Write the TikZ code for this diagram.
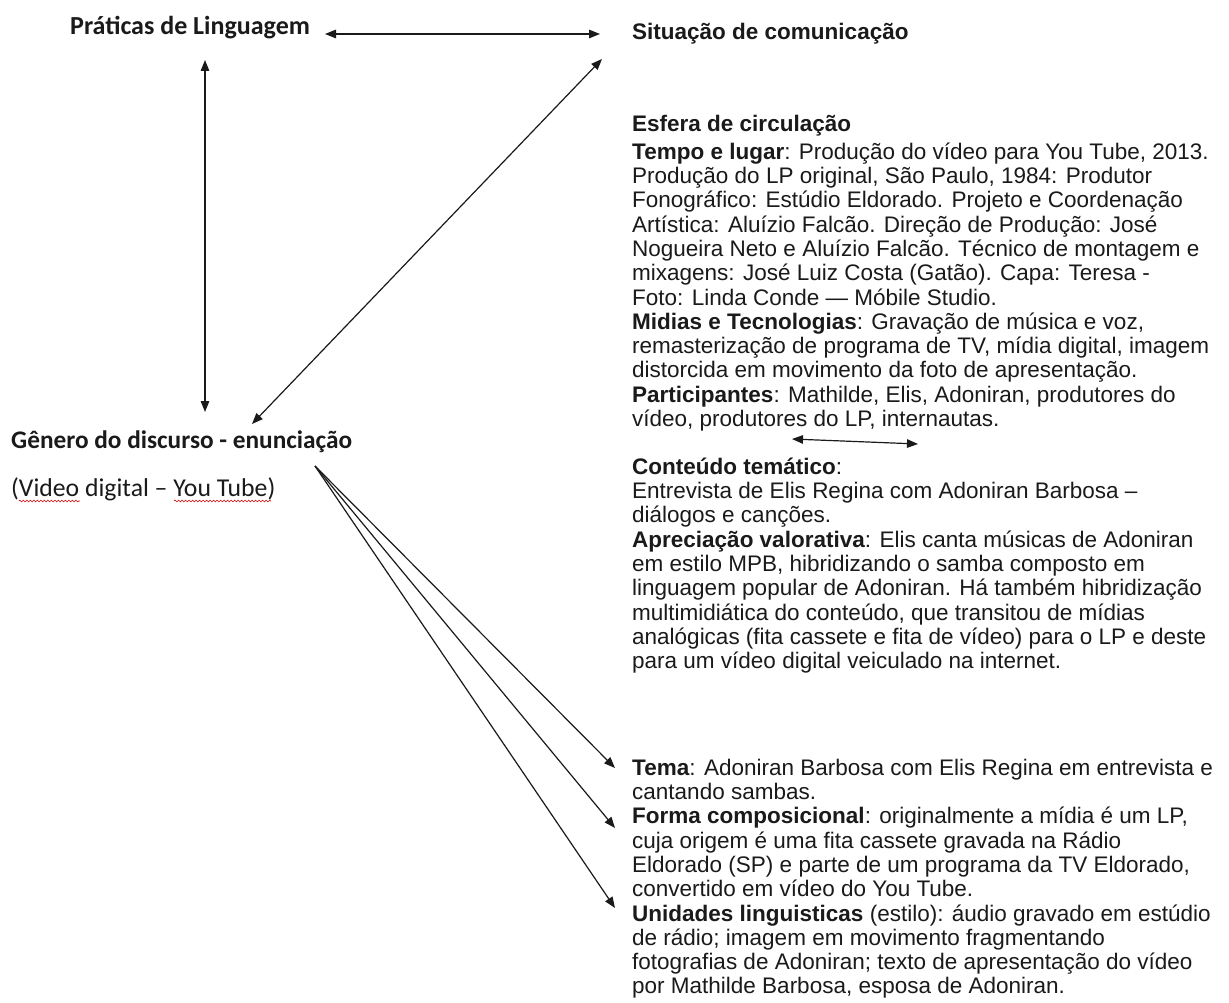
\documentclass[tikz,border=0pt]{standalone}
\usepackage{fontspec}
\setmainfont{Liberation Sans}
\newfontfamily\calib{Carlito}
\usetikzlibrary{arrows.meta,decorations.pathmorphing}
\definecolor{ink}{HTML}{1A1A1A}
\newcommand\topstrut{\rule{0pt}{22pt}}
\begin{document}
\begin{tikzpicture}[x=1pt,y=-1pt,
  >={Triangle[length=11pt,width=8.5pt]},
  txt/.style={inner sep=0pt, anchor=north west, align=left, text=ink,
    font=\fontsize{22.5}{24.3}\selectfont},
  head/.style={inner sep=0pt, anchor=base west, text=ink,
    font=\fontsize{22.5}{24.3}\selectfont\bfseries},
  lefthead/.style={inner sep=0pt, anchor=base west, text=ink,
    font=\calib\fontsize{25.3}{30}\selectfont\bfseries},
  leftsub/.style={inner sep=0pt, anchor=base west, text=ink,
    font=\calib\fontsize{25.7}{30}\selectfont},
  dbl/.style={<->, line width=1.2pt, draw=ink},
  one/.style={->, line width=1.2pt, draw=ink},
  wavy/.style={draw=red!85!black, line width=0.6pt, decorate,
    decoration={snake, amplitude=0.9pt, segment length=3.5pt}}]
\useasboundingbox[fill=white] (0,0) rectangle (1229,1003);

% left column
\node[lefthead, font=\calib\fontsize{26}{30}\selectfont\bfseries] (prat) at (70,35) {Práticas de Linguagem};
\node[lefthead] (gen) at (11,448) {Gênero do discurso - enunciação};
\node[leftsub] (vid) at (11,496) {(Video digital – You Tube)};
\draw[wavy] ([xshift=7.8pt,yshift=-5pt]vid.base west) -- ++(61,0);
\draw[wavy] ([xshift=163pt,yshift=-5pt]vid.base west) -- ++(97,0);

% right column
\node[head] (sit) at (632,40) {Situação de comunicação};
\node[head] (esf) at (632,132) {Esfera de circulação};
\node[txt] (tempo) at (632,137) {\topstrut\textbf{Tempo e lugar}: Produção do vídeo para You Tube, 2013.\\
Produção do LP original, São Paulo, 1984: Produtor\\
Fonográfico: Estúdio Eldorado. Projeto e Coordenação\\
Artística: Aluízio Falcão. Direção de Produção: José\\
Nogueira Neto e Aluízio Falcão. Técnico de montagem e\\
mixagens: José Luiz Costa (Gatão). Capa: Teresa -\\
Foto: Linda Conde — Móbile Studio.\\
\textbf{Midias e Tecnologias}: Gravação de música e voz,\\
remasterização de programa de TV, mídia digital, imagem\\
distorcida em movimento da foto de apresentação.\\
\textbf{Participantes}: Mathilde, Elis, Adoniran, produtores do\\
vídeo, produtores do LP, internautas.};

\node[txt] (cont) at (632,452) {\topstrut\textbf{Conteúdo temático}:\\
Entrevista de Elis Regina com Adoniran Barbosa –\\
diálogos e canções.\\
\textbf{Apreciação valorativa}: Elis canta músicas de Adoniran\\
em estilo MPB, hibridizando o samba composto em\\
linguagem popular de Adoniran. Há também hibridização\\
multimidiática do conteúdo, que transitou de mídias\\
analógicas (fita cassete e fita de vídeo) para o LP e deste\\
para um vídeo digital veiculado na internet.};

\node[txt] (tema) at (632,753) {\topstrut\textbf{Tema}: Adoniran Barbosa com Elis Regina em entrevista e\\
cantando sambas.\\
\textbf{Forma composicional}: originalmente a mídia é um LP,\\
cuja origem é uma fita cassete gravada na Rádio\\
Eldorado (SP) e parte de um programa da TV Eldorado,\\
convertido em vídeo do You Tube.\\
\textbf{Unidades linguisticas} (estilo): áudio gravado em estúdio\\
de rádio; imagem em movimento fragmentando\\
fotografias de Adoniran; texto de apresentação do vídeo\\
por Mathilde Barbosa, esposa de Adoniran.};

% connector end points
\coordinate (hL) at (325,34);
\coordinate (hR) at (600,34);
\coordinate (vT) at (205,60);
\coordinate (vB) at (205,412);
\coordinate (dT) at (602,59);
\coordinate (dB) at (252,424);
\coordinate (fan) at (315,466);
\coordinate (f1) at (615,768);
\coordinate (f2) at (615,828);
\coordinate (f3) at (615,908);
\coordinate (sL) at (792,439);
\coordinate (sR) at (918,444);

\draw[dbl] (hL) -- (hR);
\draw[dbl] (vT) -- (vB);
\draw[dbl] (dT) -- (dB);
\draw[dbl] (sL) -- (sR);
\draw[one] (fan) -- (f1);
\draw[one] (fan) -- (f2);
\draw[one] (fan) -- (f3);
\end{tikzpicture}
\end{document}
